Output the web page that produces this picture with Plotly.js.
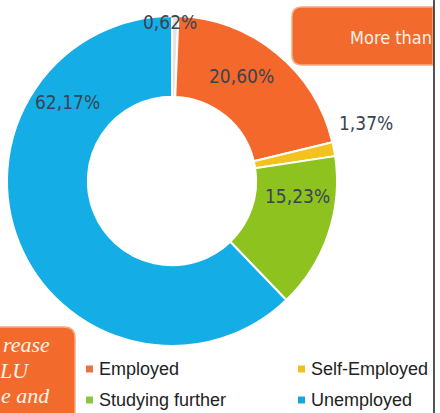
<!DOCTYPE html>
<html>
<head>
<meta charset="utf-8">
<script src="https://cdn.plot.ly/plotly-3.0.1.min.js"></script>
<style>html,body{margin:0;padding:0;background:#fff;}#chart{width:440px;height:413px;}</style>
</head>
<body>
<div id="chart"></div>
<script>
// ---- data ----
var categories = ["Other", "Employed", "Self-Employed", "Studying further", "Unemployed"];
var percentages = [0.62, 20.60, 1.37, 15.23, 62.17];
var sliceColors = ["#e4e4e4", "#f4682b", "#f4c21c", "#8dc21f", "#14ade6"];
var legendCategories = ["Employed", "Self-Employed", "Studying further", "Unemployed"];
var legendColors = ["#e8733f", "#f0c020", "#8cc63f", "#1aa3d8"];
var calloutTop = "More than";
var calloutLeft = ["rease", "LU", "e and"];

// ---- helpers (pixel -> paper) ----
var W = 440, H = 413;
function X(px) { return px / W; }
function Y(py) { return 1 - py / H; }
function fmt(v) { return v.toFixed(2).replace('.', ',') + '%'; }

var cx = 172, cy = 181, r = 165;
var pie = {
  type: 'pie',
  values: percentages,
  labels: categories,
  marker: { colors: sliceColors, line: { color: '#ffffff', width: 2 } },
  hole: 0.51,
  sort: false,
  direction: 'clockwise',
  rotation: 0,
  textinfo: 'none',
  showlegend: false,
  hoverinfo: 'label+percent',
  domain: { x: [X(cx - r), X(cx + r)], y: [Y(cy + r), Y(cy - r)] }
};

var narrow = '"DejaVu Sans Condensed", "Liberation Sans Narrow", "Arial Narrow", sans-serif';
var labelFont = { family: narrow, size: 19, color: '#3a4450' };
var labelPos = [[170, 22], [241, 76], [366, 123], [297, 196], [67, 102]];
var annotations = [];
percentages.forEach(function (v, i) {
  annotations.push({ xref: 'paper', yref: 'paper', x: X(labelPos[i][0]), y: Y(labelPos[i][1]),
    xanchor: 'center', yanchor: 'middle', showarrow: false, text: fmt(v), font: labelFont });
});

// legend (manual, 2 columns)
var legendPos = [[86, 369], [298, 369], [86, 400], [298, 400]];
var shapes = [];
legendCategories.forEach(function (c, i) {
  var p = legendPos[i];
  shapes.push({ type: 'rect', xref: 'paper', yref: 'paper', x0: X(p[0]), x1: X(p[0] + 7),
    y0: Y(p[1] + 3.5), y1: Y(p[1] - 3.5), fillcolor: legendColors[i], line: { width: 0 } });
  annotations.push({ xref: 'paper', yref: 'paper', x: X(p[0] + 11), y: Y(p[1]), xanchor: 'left', yanchor: 'middle',
    showarrow: false, text: c, font: { family: '"Liberation Sans", Arial, sans-serif', size: 18, color: '#222222' } });
});

// top-right orange callout box (rounded left corners, clipped by the line)
function rpath(x0, y0, x1, y1, rad) {
  return 'M' + X(x0 + rad) + ',' + Y(y0) + ' L' + X(x1) + ',' + Y(y0) + ' L' + X(x1) + ',' + Y(y1) +
    ' L' + X(x0 + rad) + ',' + Y(y1) + ' Q' + X(x0) + ',' + Y(y1) + ' ' + X(x0) + ',' + Y(y1 - rad) +
    ' L' + X(x0) + ',' + Y(y0 + rad) + ' Q' + X(x0) + ',' + Y(y0) + ' ' + X(x0 + rad) + ',' + Y(y0) + ' Z';
}
shapes.push({ type: 'path', xref: 'paper', yref: 'paper', path: rpath(292, 7, 433, 65, 10),
  fillcolor: '#f26a2c', line: { color: '#f8a982', width: 1.5 } });
annotations.push({ xref: 'paper', yref: 'paper', x: X(348), y: Y(37), xanchor: 'left', yanchor: 'middle', showarrow: false,
  text: calloutTop, font: { family: narrow, size: 18, color: '#fff1e8' } });

// bottom-left orange box (rounded top-right corner)
var bl = 'M' + X(-2) + ',' + Y(327) + ' L' + X(64) + ',' + Y(327) + ' Q' + X(75) + ',' + Y(327) + ' ' + X(75) + ',' + Y(338) +
  ' L' + X(75) + ',' + Y(415) + ' L' + X(-2) + ',' + Y(415) + ' Z';
shapes.push({ type: 'path', xref: 'paper', yref: 'paper', path: bl, fillcolor: '#f26a2c', line: { color: '#f8a982', width: 1.5 } });
var leftPos = [[52, 344], [32, 370], [52, 395]];
calloutLeft.forEach(function (t, i) {
  annotations.push({ xref: 'paper', yref: 'paper', x: X(leftPos[i][0]), y: Y(leftPos[i][1]), xanchor: 'right', yanchor: 'middle',
    showarrow: false, text: '<i>' + t + '</i>', font: { family: '"Liberation Serif", "DejaVu Serif", serif', size: 22, color: '#fff3ea' } });
});

// vertical divider line at the right
shapes.push({ type: 'line', xref: 'paper', yref: 'paper', x0: X(434), x1: X(434), y0: 0, y1: 1, line: { color: '#1a1a1a', width: 1.5 } });

var layout = {
  width: W, height: H,
  margin: { l: 0, r: 0, t: 0, b: 0 },
  paper_bgcolor: '#ffffff',
  showlegend: false,
  shapes: shapes,
  annotations: annotations
};
Plotly.newPlot('chart', [pie], layout, { displayModeBar: false, staticPlot: true });
</script>
</body>
</html>
